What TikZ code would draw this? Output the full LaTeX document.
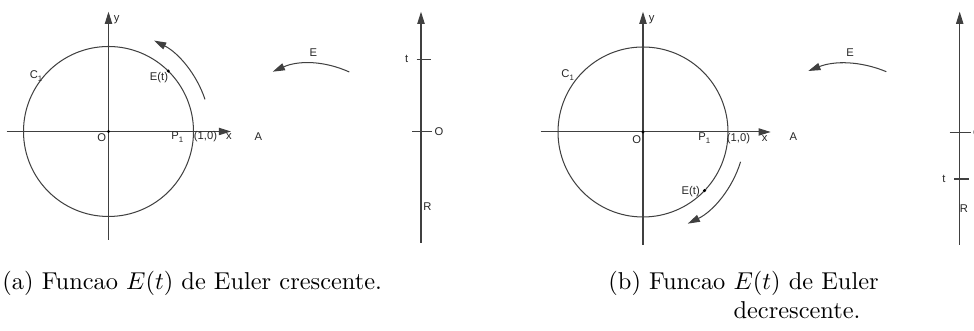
\documentclass[tikz,border=0pt]{standalone}
\usepackage{fontspec}
\newfontfamily\lab{Liberation Sans}
\usetikzlibrary{arrows.meta}
\begin{document}
\begin{tikzpicture}[x=0.41pt,y=0.41pt,
  ln/.style={line width=0.42pt,draw=black!75},
  arr/.style={ln,-{Triangle[length=5pt,width=3pt]}},
  lbl/.style={font=\lab\fontsize{4.6}{5.5}\selectfont,inner sep=0pt,text=black!85},
  dotc/.style={fill=black,draw=none},
  capt/.style={inner sep=0pt,anchor=base west}]
\useasboundingbox (0,0) rectangle (974,331);
% ---------------- panel (a) ----------------
\coordinate (Oa) at (108.5,199.5);
\coordinate (xa0) at (6.7,199.5);   \coordinate (xa1) at (231,199.5);
\coordinate (ya0) at (108.5,91);    \coordinate (ya1) at (108.5,319.3);
\draw[ln] (Oa) circle[radius=85];
\draw[arr] (xa0) -- (xa1);
\draw[arr] (ya0) -- (ya1);
\fill[dotc] (Oa) circle[radius=1.7];
\coordinate (Eta) at ([shift={(45.3:85)}]Oa);
\fill[dotc] (Eta) circle[radius=1.7];
\coordinate (arcA0) at ([shift={(18.4:101.7)}]Oa);
\draw[arr] (arcA0) arc[start angle=18.4,end angle=63.4,radius=101.7];
\node[lbl] (lya) at (116.7,311) {y};
\node[lbl] (lxa) at (229,194) {x};
\node[lbl] (loa) at (101.7,193.5) {O};
\node[lbl] (lpa) at (178,194) {P\textsubscript{1}};
\node[lbl] (l10a) at (205.5,194) {(1,0)};
\node[lbl] (lca) at (36.7,255) {C\textsubscript{1}};
\node[lbl] (leta) at (159,253.7) {E(t)};
% map arrow E
\coordinate (ea0) at (349.3,259);  \coordinate (ea1) at (272.7,259.3);
\draw[arr] (ea0) .. controls (323.8,270.5) and (298.2,270.6) .. (ea1);
\node[lbl] (lea) at (313.3,278.3) {E};
\node[lbl] (laa) at (258.3,194.3) {A};
% real line
\coordinate (ra0) at (421,88.3);  \coordinate (ra1) at (421,319.3);
\draw[arr] (ra0) -- (ra1);
\coordinate (ta0) at (416.7,271.7); \coordinate (ta1) at (430.7,271.7);
\draw[ln] (ta0) -- (ta1);
\coordinate (oa0) at (412.3,199.3); \coordinate (oa1) at (431.7,199.3);
\draw[ln] (oa0) -- (oa1);
\node[lbl] (lta) at (406.7,271.7) {t};
\node[lbl] (lora) at (439,199.3) {O};
\node[lbl] (lra) at (427.3,124.3) {R};
% ---------------- panel (b) ----------------
\coordinate (Ob) at (643,199);
\coordinate (xb0) at (540.7,199);   \coordinate (xb1) at (770.7,199);
\coordinate (yb0) at (643,86);      \coordinate (yb1) at (643,319.3);
\draw[ln] (Ob) circle[radius=85];
\draw[arr] (xb0) -- (xb1);
\draw[arr] (yb0) -- (yb1);
\fill[dotc] (Ob) circle[radius=1.7];
\coordinate (Etb) at ([shift={(-43.6:85)}]Ob);
\fill[dotc] (Etb) circle[radius=1.7];
\coordinate (arcB0) at ([shift={(-17:102)}]Ob);
\draw[arr] (arcB0) arc[start angle=-17,end angle=-64,radius=102];
\node[lbl] (lyb) at (651.7,311) {y};
\node[lbl] (lxb) at (764.7,192.7) {x};
\node[lbl] (lob) at (636.7,191.7) {O};
\node[lbl] (lpb) at (705,192.7) {P\textsubscript{1}};
\node[lbl] (l10b) at (738.5,192.7) {(1,0)};
\node[lbl] (lcb) at (568.3,256) {C\textsubscript{1}};
\node[lbl] (letb) at (690.7,139.3) {E(t)};
\coordinate (eb0) at (886.3,259.3);  \coordinate (eb1) at (808.3,260);
\draw[arr] (eb0) .. controls (860.3,270.1) and (834.3,270.3) .. (eb1);
\node[lbl] (leb) at (850,278.7) {E};
\node[lbl] (lab) at (793.3,194.3) {A};
\coordinate (rb0) at (959.7,86);  \coordinate (rb1) at (959.7,319.3);
\draw[arr] (rb0) -- (rb1);
\coordinate (tb0) at (954,152); \coordinate (tb1) at (969,152);
\draw[ln] (tb0) -- (tb1);
\coordinate (ob0) at (949.7,198.7); \coordinate (ob1) at (970.7,198.7);
\draw[ln] (ob0) -- (ob1);
\node[lbl] (ltb) at (944,152) {t};
\node[lbl,anchor=west] (lorb) at (972.5,198.7) {O};
\node[lbl] (lrb) at (964,122.7) {R};
% ---------------- captions ----------------
\node[capt] (capa) at (2,41) {(a) Funcao $E(t)$ de Euler crescente.};
\node[capt] (capb) at (608,41) {(b) Funcao $E(t)$ de Euler};
\node[inner sep=0pt,anchor=base] (capb2) at (797,12) {decrescente.};
\end{tikzpicture}
\end{document}
